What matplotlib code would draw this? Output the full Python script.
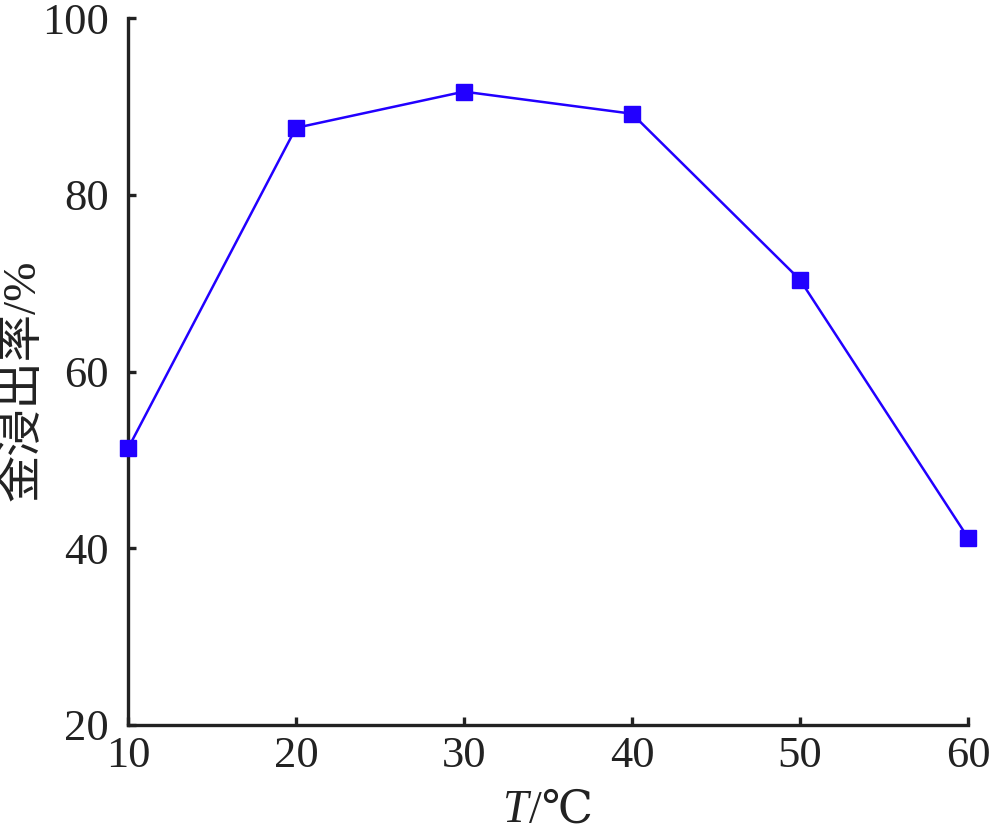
import matplotlib
matplotlib.use("Agg")
import matplotlib.pyplot as plt
from matplotlib.offsetbox import TextArea, HPacker, AnchoredOffsetbox

temps = [10, 20, 30, 40, 50, 60]
leach_rate = [51.3, 87.6, 91.7, 89.2, 70.4, 41.2]
x_ticks = [10, 20, 30, 40, 50, 60]
y_ticks = [20, 40, 60, 80, 100]

plt.rcParams['font.family'] = ['Liberation Serif', 'Noto Sans CJK SC']

fig = plt.figure(figsize=(10, 8.33), dpi=100)
ax = fig.add_axes([0.128, 0.1297, 0.840, 0.8483])

ax.plot(temps, leach_rate, color='#2200ff', lw=1.8, marker='s', ms=11,
        markerfacecolor='#2200ff', markeredgecolor='#2200ff', clip_on=False, zorder=3)

ax.set_xlim(10, 60)
ax.set_ylim(20, 100)
ax.set_xticks(x_ticks)
ax.set_yticks(y_ticks)
for s in ['top', 'right']:
    ax.spines[s].set_visible(False)
for s in ['left', 'bottom']:
    ax.spines[s].set_linewidth(2.4)
    ax.spines[s].set_color('#222222')
ax.tick_params(direction='in', length=6, width=2.4, color='#222222',
               labelsize=32, labelcolor='#222222')
ax.tick_params(axis='y', pad=14)
ax.tick_params(axis='x', pad=8)

ax.set_ylabel('金浸出率/%', fontsize=34, color='#222222')
ax.yaxis.set_label_coords(-0.099, 0.488)

t_italic = TextArea('T', textprops=dict(fontsize=33, style='italic', color='#222222',
                                        family=['Liberation Serif']))
t_rest = TextArea('/℃', textprops=dict(fontsize=33, color='#222222',
                                      family=['Liberation Serif', 'DejaVu Serif', 'Noto Sans CJK SC']))
box = HPacker(children=[t_italic, t_rest], align='baseline', pad=0, sep=0)
anch = AnchoredOffsetbox(loc='center', child=box, pad=0, frameon=False,
                         bbox_to_anchor=(0.5, -0.122), bbox_transform=ax.transAxes,
                         borderpad=0)
ax.add_artist(anch)

fig.savefig('out.png', dpi=100)
